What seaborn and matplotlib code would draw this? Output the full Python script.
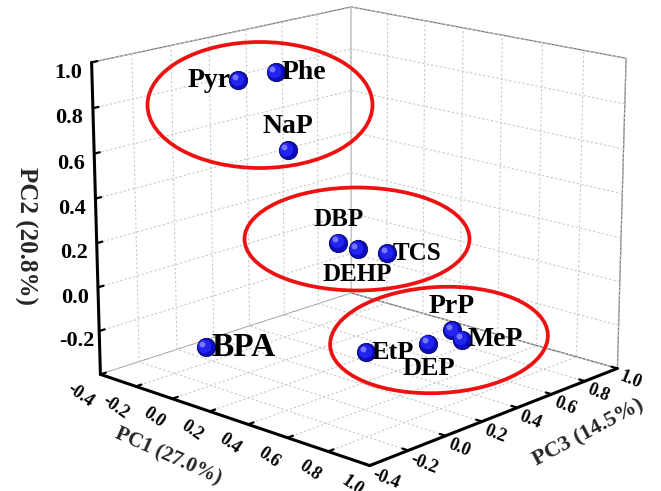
import numpy as np
import matplotlib
matplotlib.use('Agg')
import matplotlib.pyplot as plt
from matplotlib import transforms
from matplotlib.patches import Ellipse
from mpl_toolkits.mplot3d import proj3d
import seaborn as sns

sns.set_style('white')
sns.set_context('paper')

plt.rcParams['font.family'] = ['Liberation Serif', 'DejaVu Serif']
plt.rcParams['font.weight'] = 'bold'
plt.rcParams['grid.color'] = '#c8c8c8'
plt.rcParams['grid.linewidth'] = 0.8
plt.rcParams['xtick.color'] = 'black'
plt.rcParams['ytick.color'] = 'black'

# loadings: (PC1, PC3, PC2)
compounds = ['Pyr', 'Phe', 'NaP', 'DBP', 'DEHP', 'TCS',
             'BPA', 'EtP', 'DEP', 'PrP', 'MeP']
pc1 = [-0.08, 0.04, 0.07, 0.36, 0.41, 0.485, 0.09, 0.36, 0.57, 0.60, 0.65]
pc3 = [0.04, 0.12, 0.15, 0.12, 0.17, 0.25, -0.31, 0.27, 0.39, 0.49, 0.49]
pc2 = [0.895, 0.935, 0.59, 0.25, 0.22, 0.20, -0.17, -0.287, -0.225,
       -0.185, -0.215]

axis_titles = ['PC1 (27.0%)', 'PC3 (14.5%)', 'PC2 (20.8%)']

# where each name sits relative to its sphere
label_side = ['left', 'right', 'above', 'above', 'below', 'right',
              'right', 'right', 'below', 'above', 'right']
label_size = [20, 20, 20, 18, 18, 18, 24, 19, 19, 20, 20]

fig = plt.figure(figsize=(6.61, 4.91), dpi=100)
ax = fig.add_axes([0.033, -0.02, 1.0, 1.12], projection='3d')
ax.set_proj_type('persp', focal_length=0.9)
ax.view_init(elev=16, azim=-47)
ax.set_box_aspect((1, 1, 0.87), zoom=1.09)


def shifted(dx, dy):
    return transforms.offset_copy(ax.transData, fig=fig, x=dx, y=dy,
                                  units='points')


# shaded spheres: dark rim, brighter body, small highlight up-left
ax.scatter(pc1, pc3, pc2, s=175, c='#0c0cc0', edgecolors='#04045a',
           linewidths=0.6, depthshade=False, alpha=1)
ax.scatter(pc1, pc3, pc2, s=95, c='#2323f0', linewidths=0,
           depthshade=False, alpha=1, transform=shifted(-1, 1))
ax.scatter(pc1, pc3, pc2, s=18, c='#8080ff', linewidths=0,
           depthshade=False, alpha=0.9, transform=shifted(-2.4, 2.4))

ticks = np.round(np.arange(-0.4, 1.01, 0.2), 1)
ax.set_xlim(-0.4, 1.0)
ax.set_ylim(-0.4, 1.0)
ax.set_zlim(-0.4, 1.0)
ax.set_xticks(ticks)
ax.set_yticks(ticks)
ax.set_zticks(ticks[1:])
ax.set_xticklabels([f'{t:.1f}' for t in ticks], fontsize=13,
                   rotation=-35, ha='right')
ax.set_yticklabels([f'{t:.1f}' for t in ticks], fontsize=13,
                   rotation=-22, ha='left')
ax.set_zticklabels([f'{t:.1f}' for t in ticks[1:]], fontsize=16)
ax.zaxis.set_ticks_position('lower')
ax.tick_params(axis='x', pad=-5)
ax.tick_params(axis='y', pad=-8)
ax.tick_params(axis='z', pad=1)
ax.set_xlabel('')
ax.set_ylabel('')
ax.set_zlabel('')

for axis in (ax.xaxis, ax.yaxis, ax.zaxis):
    axis.set_pane_color((1, 1, 1, 1))
    axis.pane.set_edgecolor('#777777')
    axis.pane.set_linewidth(0.9)
    axis.line.set_color('black')
    axis.line.set_linewidth(2.2)
    axis._axinfo['grid']['color'] = '#c8c8c8'
    axis._axinfo['grid']['linestyle'] = (0, (2, 2))
    axis._axinfo['grid']['linewidth'] = 0.8
    axis._axinfo['tick']['inward_factor'] = 0.0
    axis._axinfo['tick']['outward_factor'] = 0.25
    axis._axinfo['tick']['linewidth'] = {True: 1.6, False: 1.0}

# names: project each point once, then annotate in the axes' 2D space
fig.canvas.draw()
offsets = {'left': (-5, 0, 'right', 'center'),
           'right': (4, 0, 'left', 'center'),
           'above': (0, 8, 'center', 'bottom'),
           'below': (0, -10, 'center', 'top')}
for x, y, z, name, side, fs in zip(pc1, pc3, pc2, compounds,
                                   label_side, label_size):
    dx, dy, ha, va = offsets[side]
    px, py, _ = proj3d.proj_transform(x, y, z, ax.get_proj())
    ax.annotate(name, (px, py), xytext=(dx, dy), textcoords='offset points',
                ha=ha, va=va, fontsize=fs, fontweight='bold',
                color='black')

fig.text(0.038, 0.52, axis_titles[2], rotation=270, fontsize=18,
         fontweight='bold', ha='center', va='center')
fig.text(0.254, 0.07, axis_titles[0], rotation=-24, fontsize=15,
         fontweight='bold', ha='center', va='center')
fig.text(0.89, 0.118, axis_titles[1], rotation=28, fontsize=16,
         fontweight='bold', ha='center', va='center')

# red groupings drawn in pixel space on top
over = fig.add_axes([0, 0, 1, 1])
over.set_xlim(0, 661)
over.set_ylim(491, 0)
over.set_xticks([])
over.set_yticks([])
over.axis('off')
over.patch.set_alpha(0)
groups = [((260, 105), 225, 126, 0),
          ((357, 239), 225, 103, 0),
          ((439, 340), 218, 106, -3)]
for center, w, h, ang in groups:
    over.add_patch(Ellipse(center, w, h, angle=ang, fill=False,
                           edgecolor='#ee1111', linewidth=2.7))

fig.savefig('out.png', dpi=100)
